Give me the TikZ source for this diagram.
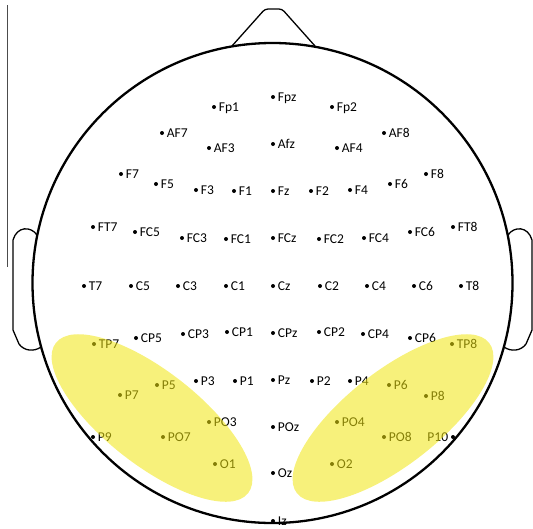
\documentclass[tikz,border=0pt]{standalone}
\usepackage{fontspec}
\setmainfont{Carlito}
\usetikzlibrary{positioning}
\tikzset{
  electrode node/.style={circle,fill=black,inner sep=0pt,minimum size=4pt},
  electrode label/.style={font=\fontsize{13.5}{15}\selectfont,text=black,
    inner sep=0pt,text height=8.5pt,text depth=0pt,label distance=2.5pt},
  elec/.style={electrode node,label={[electrode label]right:#1}},
  elec left/.style={electrode node,label={[electrode label]left:#1}},
  head line/.style={line width=2.3pt},
  ear line/.style={line width=1.3pt,line join=round},
  region fill/.style={fill=yellow!90!black!60!yellow,fill opacity=0.55},
}

\begin{document}
\begin{tikzpicture}[x=1pt,y=-1pt]
  \useasboundingbox (0,0) rectangle (533,528);
  % margin rule
  \draw[black!70,line width=0.8pt] (7.5,5) -- (7.5,267);
  % ears and nose
  \draw[ear line] (37,235) .. controls (31,226) and (17,226) .. (13,240)
    -- (13,330) -- (19,344) .. controls (24,351) and (34,352) .. (41,347);
  \draw[ear line] (508,235) .. controls (514,226) and (528,226) .. (532,240)
    -- (532,330) -- (526,344) .. controls (521,351) and (511,352) .. (504,347);
  \draw[ear line,rounded corners=3pt] (232,46) -- (265,9) -- (282,9) -- (315,46);
  % electrodes
  \node[elec=Fp1] (fp1) at (214,107) {};
  \node[elec=Fpz] (fpz) at (273,97) {};
  \node[elec=Fp2] (fp2) at (332,107) {};
  \node[elec=AF7] (af7) at (162,133) {};
  \node[elec=AF3] (af3) at (209,148) {};
  \node[elec=Afz] (afz) at (273,144) {};
  \node[elec=AF4] (af4) at (337,148) {};
  \node[elec=AF8] (af8) at (384,133) {};
  \node[elec=F7] (f7) at (121,174) {};
  \node[elec=F5] (f5) at (156,184) {};
  \node[elec=F3] (f3) at (196,190) {};
  \node[elec=F1] (f1) at (234,191) {};
  \node[elec=Fz] (fz) at (273,191) {};
  \node[elec=F2] (f2) at (311,191) {};
  \node[elec=F4] (f4) at (350,190) {};
  \node[elec=F6] (f6) at (390,184) {};
  \node[elec=F8] (f8) at (426,174) {};
  \node[elec=FT7] (ft7) at (93,227) {};
  \node[elec=FC5] (fc5) at (135,232) {};
  \node[elec=FC3] (fc3) at (182,238) {};
  \node[elec=FC1] (fc1) at (226,239) {};
  \node[elec=FCz] (fcz) at (273,238) {};
  \node[elec=FC2] (fc2) at (319,239) {};
  \node[elec=FC4] (fc4) at (364,238) {};
  \node[elec=FC6] (fc6) at (410,232) {};
  \node[elec=FT8] (ft8) at (453,227) {};
  \node[elec=T7] (t7) at (84,286) {};
  \node[elec=C5] (c5) at (131,286) {};
  \node[elec=C3] (c3) at (178,286) {};
  \node[elec=C1] (c1) at (226,286) {};
  \node[elec=Cz] (cz) at (273,286) {};
  \node[elec=C2] (c2) at (320,286) {};
  \node[elec=C4] (c4) at (367,286) {};
  \node[elec=C6] (c6) at (414,286) {};
  \node[elec=T8] (t8) at (461,286) {};
  \node[elec=TP7] (tp7) at (94,344) {};
  \node[elec=CP5] (cp5) at (136,338) {};
  \node[elec=CP3] (cp3) at (183,334) {};
  \node[elec=CP1] (cp1) at (227,332) {};
  \node[elec=CPz] (cpz) at (273,333) {};
  \node[elec=CP2] (cp2) at (319,332) {};
  \node[elec=CP4] (cp4) at (363,334) {};
  \node[elec=CP6] (cp6) at (410,338) {};
  \node[elec=TP8] (tp8) at (452,344) {};
  \node[elec=P7] (p7) at (120,395) {};
  \node[elec=P5] (p5) at (157,385) {};
  \node[elec=P3] (p3) at (196,381) {};
  \node[elec=P1] (p1) at (235,381) {};
  \node[elec=Pz] (pz) at (273,380) {};
  \node[elec=P2] (p2) at (312,381) {};
  \node[elec=P4] (p4) at (350,381) {};
  \node[elec=P6] (p6) at (389,385) {};
  \node[elec=P8] (p8) at (426,396) {};
  \node[elec=PO3] (po3) at (209,422) {};
  \node[elec=POz] (poz) at (273,427) {};
  \node[elec=PO4] (po4) at (337,422) {};
  \node[elec=P9] (p9) at (93,437) {};
  \node[elec=PO7] (po7) at (163,437) {};
  \node[elec=PO8] (po8) at (384,437) {};
  \node[elec left=P10] (p10) at (453,437) {};
  \node[elec=O1] (o1) at (215,464) {};
  \node[elec=Oz] (oz) at (273,473) {};
  \node[elec=O2] (o2) at (332,464) {};
  \node[elec=Iz] (iz) at (273,521) {};
  % highlighted regions
  \fill[region fill] (152,418) ellipse [x radius=122,y radius=47,rotate=-38];
  \fill[region fill] (393,418) ellipse [x radius=122,y radius=47,rotate=38];
  % head
  \draw[head line] (272.5,283) circle [radius=240];
\end{tikzpicture}
\end{document}
